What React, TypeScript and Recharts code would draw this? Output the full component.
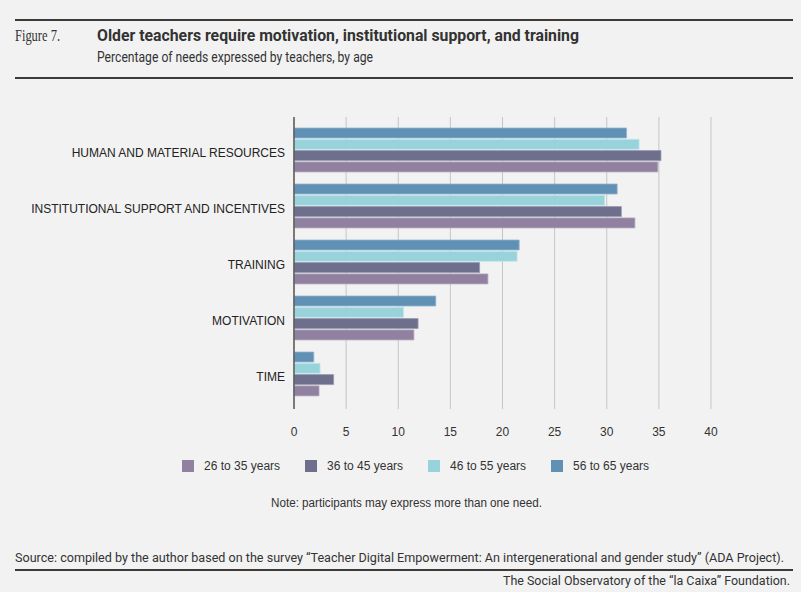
import React from "react";
import { BarChart, Bar, XAxis, YAxis, CartesianGrid } from "recharts";

const categories = [
  "HUMAN AND MATERIAL RESOURCES",
  "INSTITUTIONAL SUPPORT AND INCENTIVES",
  "TRAINING",
  "MOTIVATION",
  "TIME",
];

// percentage of needs, by age group
const age26to35 = [34.9, 32.7, 18.6, 11.5, 2.4];
const age36to45 = [35.2, 31.4, 17.8, 11.9, 3.8];
const age46to55 = [33.1, 29.8, 21.4, 10.5, 2.5];
const age56to65 = [31.9, 31.0, 21.6, 13.6, 1.9];

const xTicks = [0, 5, 10, 15, 20, 25, 30, 35, 40];

const series = [
  { key: "a26", name: "26 to 35 years", values: age26to35, color: "#8f819f", edge: "#b2a8bf" },
  { key: "a36", name: "36 to 45 years", values: age36to45, color: "#6e6f8c", edge: "#9898b0" },
  { key: "a46", name: "46 to 55 years", values: age46to55, color: "#98d3dc", edge: "#c2e6ec" },
  { key: "a56", name: "56 to 65 years", values: age56to65, color: "#6190b5", edge: "#93b5cf" },
];

const data = categories.map((c, i) => {
  const row: any = { category: c };
  series.forEach((s) => (row[s.key] = s.values[i]));
  return row;
});

const sans = "'Liberation Sans', Arial, sans-serif";
const head = "Roboto, 'Liberation Sans', sans-serif";
const ruleColor = "#3d3a38";

// single-line category label (the default tick wraps long text)
const CategoryTick = (props: any) => {
  const { x, y, payload } = props;
  return (
    <text x={x} y={y} dy={7} textAnchor="end" fontSize={12} fill="#222" fontFamily={sans}>
      {payload.value}
    </text>
  );
};

export default function App() {
  // bars are stacked top-down in reverse of the legend order
  const drawOrder = [...series].reverse();

  return (
    <div
      style={{
        position: "absolute",
        left: 0,
        top: 0,
        width: 801,
        height: 592,
        background: "#f2f2f2",
        overflow: "hidden",
      }}
    >
      <svg width={801} height={592} style={{ position: "absolute", left: 0, top: 0 }}>
        <rect x={15} y={19} width={778} height={2} fill={ruleColor} />
        <text x={15} y={41} fontFamily="'Liberation Serif', serif" fontSize={17} fill="#333" textLength={45} lengthAdjust="spacingAndGlyphs">
          Figure 7.
        </text>
        <text x={97} y={41} fontFamily={head} fontWeight={700} fontSize={16} fill="#333" textLength={482} lengthAdjust="spacingAndGlyphs">
          Older teachers require motivation, institutional support, and training
        </text>
        <text x={97} y={62} fontFamily={head} fontSize={15} fill="#333" textLength={276} lengthAdjust="spacingAndGlyphs">
          Percentage of needs expressed by teachers, by age
        </text>
        <rect x={15} y={77} width={778} height={2} fill={ruleColor} />

        <text x={406.5} y={507} textAnchor="middle" fontFamily={sans} fontSize={12} fill="#333" textLength={271} lengthAdjust="spacingAndGlyphs">
          Note: participants may express more than one need.
        </text>

        <text x={15} y={562} fontFamily={head} fontSize={12.5} fill="#333" textLength={769} lengthAdjust="spacingAndGlyphs">
          Source: compiled by the author based on the survey “Teacher Digital Empowerment: An intergenerational and gender study” (ADA Project).
        </text>
        <rect x={15} y={569} width={778} height={2} fill={ruleColor} />
        <text x={790} y={585} textAnchor="end" fontFamily={head} fontSize={12.5} fill="#333" textLength={287} lengthAdjust="spacingAndGlyphs">
          The Social Observatory of the “la Caixa” Foundation.
        </text>
      </svg>

      <div style={{ position: "absolute", left: 0, top: 0 }}>
        <BarChart
          width={801}
          height={480}
          data={data}
          layout="vertical"
          margin={{ top: 117, right: 90, bottom: 41, left: 14 }}
          barSize={10}
          barGap={1.3}
        >
          <CartesianGrid horizontal={false} stroke="#c5c5c5" strokeWidth={1} />
          <XAxis
            type="number"
            domain={[0, 40]}
            ticks={xTicks}
            axisLine={false}
            tickLine={false}
            height={30}
            tickMargin={12}
            tick={{ fontSize: 12, fill: "#333", fontFamily: sans }}
          />
          <YAxis
            type="category"
            dataKey="category"
            width={280}
            padding={{ top: 5, bottom: 7 }}
            axisLine={{ stroke: "#5a5a5a", strokeWidth: 1.5 }}
            tickLine={false}
            tickMargin={3}
            tick={<CategoryTick />}
          />
          {drawOrder.map((s) => (
            <Bar
              key={s.key}
              dataKey={s.key}
              name={s.name}
              fill={s.color}
              stroke={s.edge}
              strokeWidth={0.8}
              isAnimationActive={false}
            />
          ))}
        </BarChart>
      </div>

      <div
        style={{
          position: "absolute",
          left: 182,
          top: 460,
          display: "flex",
          fontFamily: sans,
          fontSize: 12,
          color: "#333",
          lineHeight: "12px",
        }}
      >
        {series.map((s) => (
          <div key={s.key} style={{ display: "flex", alignItems: "center", width: 123 }}>
            <span style={{ display: "inline-block", width: 12, height: 12, background: s.color, marginRight: 10 }} />
            <span>{s.name}</span>
          </div>
        ))}
      </div>
    </div>
  );
}
